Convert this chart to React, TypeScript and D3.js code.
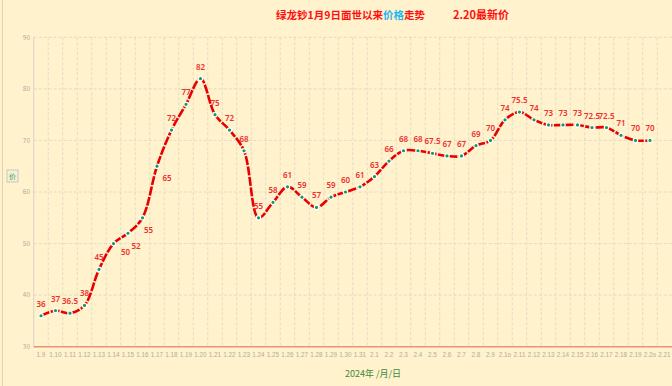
import React from "react";
import * as d3 from "d3";

// dates on the x axis (last one has no price yet)
const categories = [
  "1.9", "1.10", "1.11", "1.12", "1.13", "1.14", "1.15", "1.16", "1.17", "1.18",
  "1.19", "1.20", "1.21", "1.22", "1.23", "1.24", "1.25", "1.26", "1.27", "1.28",
  "1.29", "1.30", "1.31", "2.1", "2.2", "2.3", "2.4", "2.5", "2.6", "2.7",
  "2.8", "2.9", "2.1o", "2.11", "2.12", "2.13", "2.14", "2.15", "2.16", "2.17",
  "2.18", "2.19", "2.2o", "2.21",
];

const prices = [
  36, 37, 36.5, 38, 45, 50, 52, 55, 65, 72,
  77, 82, 75, 72, 68, 55, 58, 61, 59, 57,
  59, 60, 61, 63, 66, 68, 68, 67.5, 67, 67,
  69, 70, 74, 75.5, 74, 73, 73, 73, 72.5, 72.5,
  71, 70, 70,
];

const yTicks = [30, 40, 50, 60, 70, 80, 90];

const W = 672;
const H = 386;

export default function App() {
  const x = d3
    .scaleBand()
    .domain(categories)
    .range([33.75, 33.75 + categories.length * 14.5])
    .padding(0);
  const y = d3.scaleLinear().domain([30, 90]).range([346.7, 37.3]);

  const cx = (c: string) => (x(c) ?? 0) + x.bandwidth() / 2;

  const points = prices.map((v, i) => ({ c: categories[i], v }));

  const line = d3
    .line<{ c: string; v: number }>()
    .x((d) => cx(d.c))
    .y((d) => y(d.v))
    .curve(d3.curveCatmullRom.alpha(0.5));

  // most labels sit above the point, a few on the steep climb go lower right
  const labelPos = (d: { c: string; v: number }) => {
    const px = cx(d.c);
    const py = y(d.v);
    if (d.c === "1.14") return [px + 12, py + 11];
    if (d.c === "1.15") return [px + 8, py + 16];
    if (d.c === "1.16") return [px + 6, py + 15];
    if (d.c === "1.17") return [px + 10, py + 15];
    return [px, py - 9];
  };

  const font = "'Noto Sans CJK SC', 'Noto Sans', sans-serif";

  return (
    <div style={{ position: "fixed", left: 0, top: 0, width: W, height: H }}>
      <svg width={W} height={H} style={{ display: "block", fontFamily: font }}>
        <rect width={W} height={H} fill="#FFF2CC" />
        <line x1={2.5} x2={2.5} y1={0} y2={H} stroke="#E2D3AC" strokeWidth={1} />

        {yTicks.map((t) => (
          <g key={t}>
            {t > 30 && (
              <line
                x1={33.75}
                x2={W}
                y1={y(t)}
                y2={y(t)}
                stroke="#DDD6C4"
                strokeWidth={0.8}
                strokeDasharray="3,2"
              />
            )}
            <text
              x={30}
              y={y(t)}
              dy="0.35em"
              textAnchor="end"
              fontSize={6.5}
              fill="#B0AAA0"
            >
              {t}
            </text>
          </g>
        ))}

        {categories.slice(1).map((c) => (
          <line
            key={c}
            x1={x(c)}
            x2={x(c)}
            y1={y(90)}
            y2={y(30)}
            stroke="#DDD6C4"
            strokeWidth={0.8}
            strokeDasharray="3,2"
          />
        ))}

        <line x1={33.75} x2={33.75} y1={y(90)} y2={y(30)} stroke="#D8D2C4" strokeWidth={1} />
        <line x1={33.75} x2={W} y1={y(30)} y2={y(30)} stroke="#E8907A" strokeWidth={1.5} />

        {categories.map((c) => (
          <text
            key={c}
            x={cx(c)}
            y={356.5}
            textAnchor="middle"
            fontSize={6.3}
            fontFamily="'Liberation Sans', Arial, sans-serif"
            fill="#B2ADA3"
          >
            {c}
          </text>
        ))}

        <path
          d={line(points) ?? ""}
          fill="none"
          stroke="#E60000"
          strokeWidth={2.6}
          strokeDasharray="9,1.5"
        />

        {points.map((d) => (
          <circle
            key={d.c}
            cx={cx(d.c)}
            cy={y(d.v)}
            r={2.2}
            fill="#129B5E"
            stroke="#FFFFFF"
            strokeWidth={1.2}
          />
        ))}

        {points.map((d) => {
          const [lx, ly] = labelPos(d);
          return (
            <text
              key={d.c}
              x={lx}
              y={ly}
              textAnchor="middle"
              fontSize={8}
              fontWeight={600}
              fontFamily="'Noto Sans', 'DejaVu Sans', sans-serif"
              fill="#EE3030"
            >
              {d.v}
            </text>
          );
        })}

        <text x={276} y={19} fontSize={10.5} fontWeight={700} fill="#FF1010">
          绿龙钞1月9日面世以来<tspan fill="#1FB6F0">价格</tspan>走势
        </text>
        <text x={453} y={19} fontSize={11} fontWeight={700} fill="#FF1010">
          2.20最新价
        </text>

        <text x={373} y={377} textAnchor="middle" fontSize={9} fill="#3C8A3C">
          2024年 /月/日
        </text>
        <rect x={7} y={170} width={11} height={12} fill="#F4F0D8" stroke="#C8C8C0" strokeWidth={1} />
        <text x={12.5} y={179} textAnchor="middle" fontSize={7} fill="#3CA03C">
          价
        </text>
      </svg>
    </div>
  );
}
